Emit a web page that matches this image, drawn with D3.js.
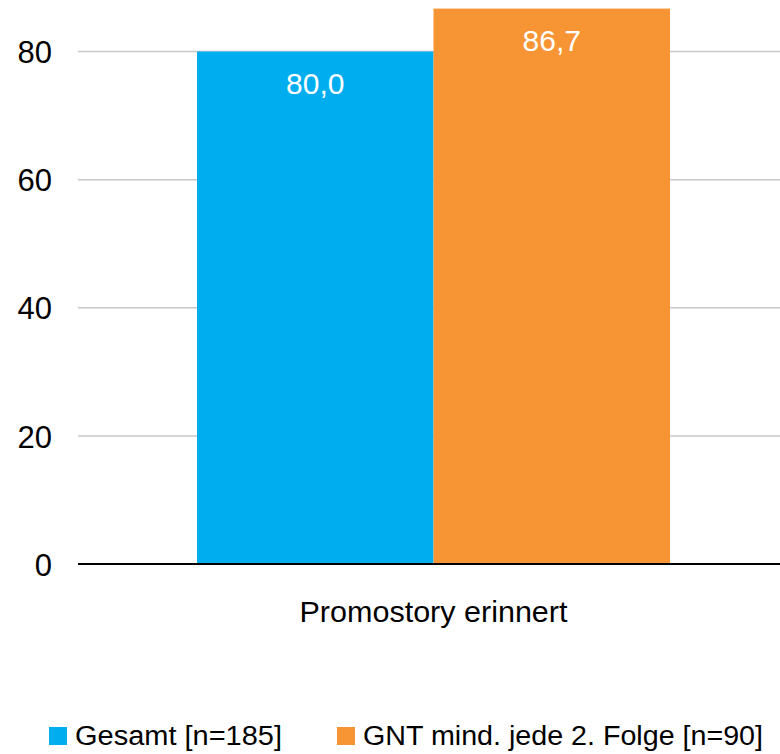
<!DOCTYPE html>
<html>
<head>
<meta charset="utf-8">
<script src="https://cdn.jsdelivr.net/npm/d3@7"></script>
<style>
  body { margin: 0; background: #fff; }
  svg { display: block; font-family: 'Liberation Sans', Arial, sans-serif; }
  .tick text { fill: #000; }
</style>
</head>
<body>
<svg id="chart" width="780" height="754"></svg>
<script>
  // data
  const categories = ['Promostory erinnert'];
  const seriesNames = ['Gesamt [n=185]', 'GNT mind. jede 2. Folge [n=90]'];
  const seriesValues = [[80.0], [86.7]];
  const tickValues = [0, 20, 40, 60, 80];
  const colors = ['#00aeef', '#f79433'];

  const svg = d3.select('#chart');
  const left = 78, right = 789;

  const y = d3.scaleLinear().domain([0, 80]).range([564, 51.5]);

  const x0 = d3.scaleBand()
    .domain(categories)
    .range([left, right])
    .paddingInner(0)
    .paddingOuter(0.2516);

  const x1 = d3.scaleBand()
    .domain(seriesNames)
    .range([0, x0.bandwidth()]);

  // gridlines
  svg.append('g')
    .selectAll('line')
    .data(tickValues.filter(d => d !== 0))
    .enter()
    .append('line')
    .attr('x1', left)
    .attr('x2', 780)
    .attr('y1', d => y(d))
    .attr('y2', d => y(d))
    .attr('stroke', '#c8c8c8')
    .attr('stroke-width', 1.5);

  // y axis labels
  const yAxis = d3.axisLeft(y).tickValues(tickValues).tickSize(0).tickPadding(0);
  const gy = svg.append('g')
    .attr('transform', 'translate(52,0)')
    .call(yAxis);
  gy.select('.domain').remove();
  gy.selectAll('text')
    .style('font-size', '31px')
    .attr('dy', '0.36em');

  // bars
  const groups = svg.append('g')
    .selectAll('g')
    .data(categories)
    .enter()
    .append('g')
    .attr('transform', d => 'translate(' + x0(d) + ',0)');

  seriesNames.forEach(function (name, si) {
    groups.append('rect')
      .attr('x', x1(name))
      .attr('width', x1.bandwidth())
      .attr('y', (d, ci) => y(seriesValues[si][ci]))
      .attr('height', (d, ci) => y(0) - y(seriesValues[si][ci]))
      .attr('fill', colors[si]);

    groups.append('text')
      .attr('x', x1(name) + x1.bandwidth() / 2)
      .attr('y', (d, ci) => y(seriesValues[si][ci]) + 42)
      .attr('text-anchor', 'middle')
      .attr('fill', '#fff')
      .style('font-size', '30px')
      .text((d, ci) => d3.format('.1f')(seriesValues[si][ci]).replace('.', ','));
  });

  // zero line
  svg.append('line')
    .attr('x1', left)
    .attr('x2', 780)
    .attr('y1', y(0))
    .attr('y2', y(0))
    .attr('stroke', '#000')
    .attr('stroke-width', 2);

  // x axis label
  svg.append('g')
    .selectAll('text')
    .data(categories)
    .enter()
    .append('text')
    .attr('x', d => x0(d) + x0.bandwidth() / 2)
    .attr('y', 622)
    .attr('text-anchor', 'middle')
    .style('font-size', '30px')
    .attr('fill', '#000')
    .attr('textLength', 268)
    .attr('lengthAdjust', 'spacingAndGlyphs')
    .text(d => d);

  // legend
  const legendX = [49, 337];
  const legendW = [207, 400];
  const legend = svg.append('g')
    .selectAll('g')
    .data(seriesNames)
    .enter()
    .append('g')
    .attr('transform', (d, i) => 'translate(' + legendX[i] + ',727)');

  legend.append('rect')
    .attr('width', 18)
    .attr('height', 18)
    .attr('fill', (d, i) => colors[i]);

  legend.append('text')
    .attr('x', 26)
    .attr('y', 18)
    .style('font-size', '27px')
    .attr('fill', '#000')
    .attr('textLength', (d, i) => legendW[i])
    .attr('lengthAdjust', 'spacingAndGlyphs')
    .text(d => d);
</script>
</body>
</html>
